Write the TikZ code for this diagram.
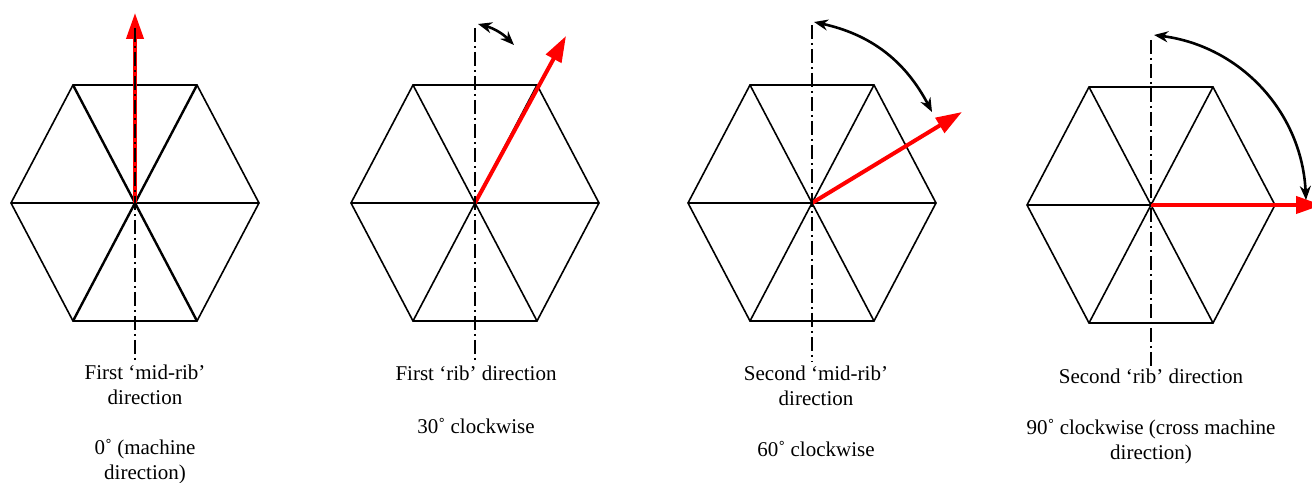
\documentclass[tikz,border=0pt]{standalone}
\usepackage{fontspec}
\setmainfont{Liberation Serif}
\usetikzlibrary{arrows.meta, positioning}
\tikzset{
  hexline/.style = {draw=black, line width=1.6pt, line join=miter},
  spoke/.style = {hexline},
  axis/.style = {draw=black, line width=1.2pt, dash pattern=on 14pt off 4pt on 2pt off 4pt},
  dirarrow/.style = {draw=red, line width=4pt, -{Triangle[length=26pt, width=17pt]}},
  turn/.style = {draw=black, line width=2.6pt, {Stealth[length=14pt, width=11pt]}-{Stealth[length=14pt, width=11pt]}},
  caption/.style = {align=center, inner sep=0pt, font=\fontsize{21}{25}\selectfont},
  hexcell/.pic = {
    \draw[hexline] (-124,0) -- (-62,118) -- (62,118) -- (124,0) -- (62,-118) -- (-62,-118) -- cycle;
    \draw[hexline] (-124,0) -- (124,0);
    \draw[spoke] (-62,118) -- (62,-118);
    \draw[spoke] (62,118) -- (-62,-118);
  }
}

\begin{document}
\begin{tikzpicture}[x=1pt, y=1pt]
\useasboundingbox (0,0) rectangle (1312,482);

% cell centres
\coordinate (c1) at (135,279);
\coordinate (c2) at (475,279);
\coordinate (c3) at (812,279);
\coordinate (c4) at (1151,277);

% hexagons
\pic[spoke/.style={hexline, line width=2.4pt}] at (c1) {hexcell};
\pic at (c2) {hexcell};
\pic at (c3) {hexcell};
\pic at (c4) {hexcell};

% direction arrows
\coordinate (d1) at (135,469);
\coordinate (d2) at (566,446);
\coordinate (d3) at (962,370);
\coordinate (d4) at (1322,277);

\draw[dirarrow] (c1) -- (d1);
\draw[dirarrow] (c2) -- (d2);
\draw[dirarrow] (c3) -- (d3);
\draw[dirarrow] (c4) -- (d4);

% machine direction axes
\coordinate (t1) at (135,454);
\coordinate (b1) at (135,120);
\coordinate (t2) at (475,454);
\coordinate (b2) at (475,120);
\coordinate (t3) at (812,457);
\coordinate (b3) at (812,120);
\coordinate (t4) at (1151,442);
\coordinate (b4) at (1151,112);

\draw[axis] (t1) -- (b1);
\draw[axis] (t2) -- (b2);
\draw[axis] (t3) -- (b3);
\draw[axis] (t4) -- (b4);

% rotation arrows
\coordinate (r2s) at (478,458);
\coordinate (r2e) at (514,437);
\coordinate (r3s) at (814,460);
\coordinate (r3e) at (932,370);
\coordinate (r4s) at (1154,447);
\coordinate (r4e) at (1306,282);

\draw[turn] (r2s) to[bend left=15] (r2e);
\draw[turn] (r3s) to[bend left=25] (r3e);
\draw[turn] (r4s) to[bend left=40] (r4e);

% captions
\node[caption, below=3pt of b1, xshift=10pt] (lab1) {First ‘mid-rib’\\direction\\[25pt]0˚ (machine\\direction)};
\node[caption, below=4pt of b2, xshift=1pt] (lab2) {First ‘rib’ direction\\[28pt]30˚ clockwise};
\node[caption, below=4pt of b3, xshift=4pt] (lab3) {Second ‘mid-rib’\\direction\\[26pt]60˚ clockwise};
\node[caption, below=-1pt of b4] (lab4) {Second ‘rib’ direction\\[26pt]90˚ clockwise (cross machine\\direction)};

\end{tikzpicture}
\end{document}
